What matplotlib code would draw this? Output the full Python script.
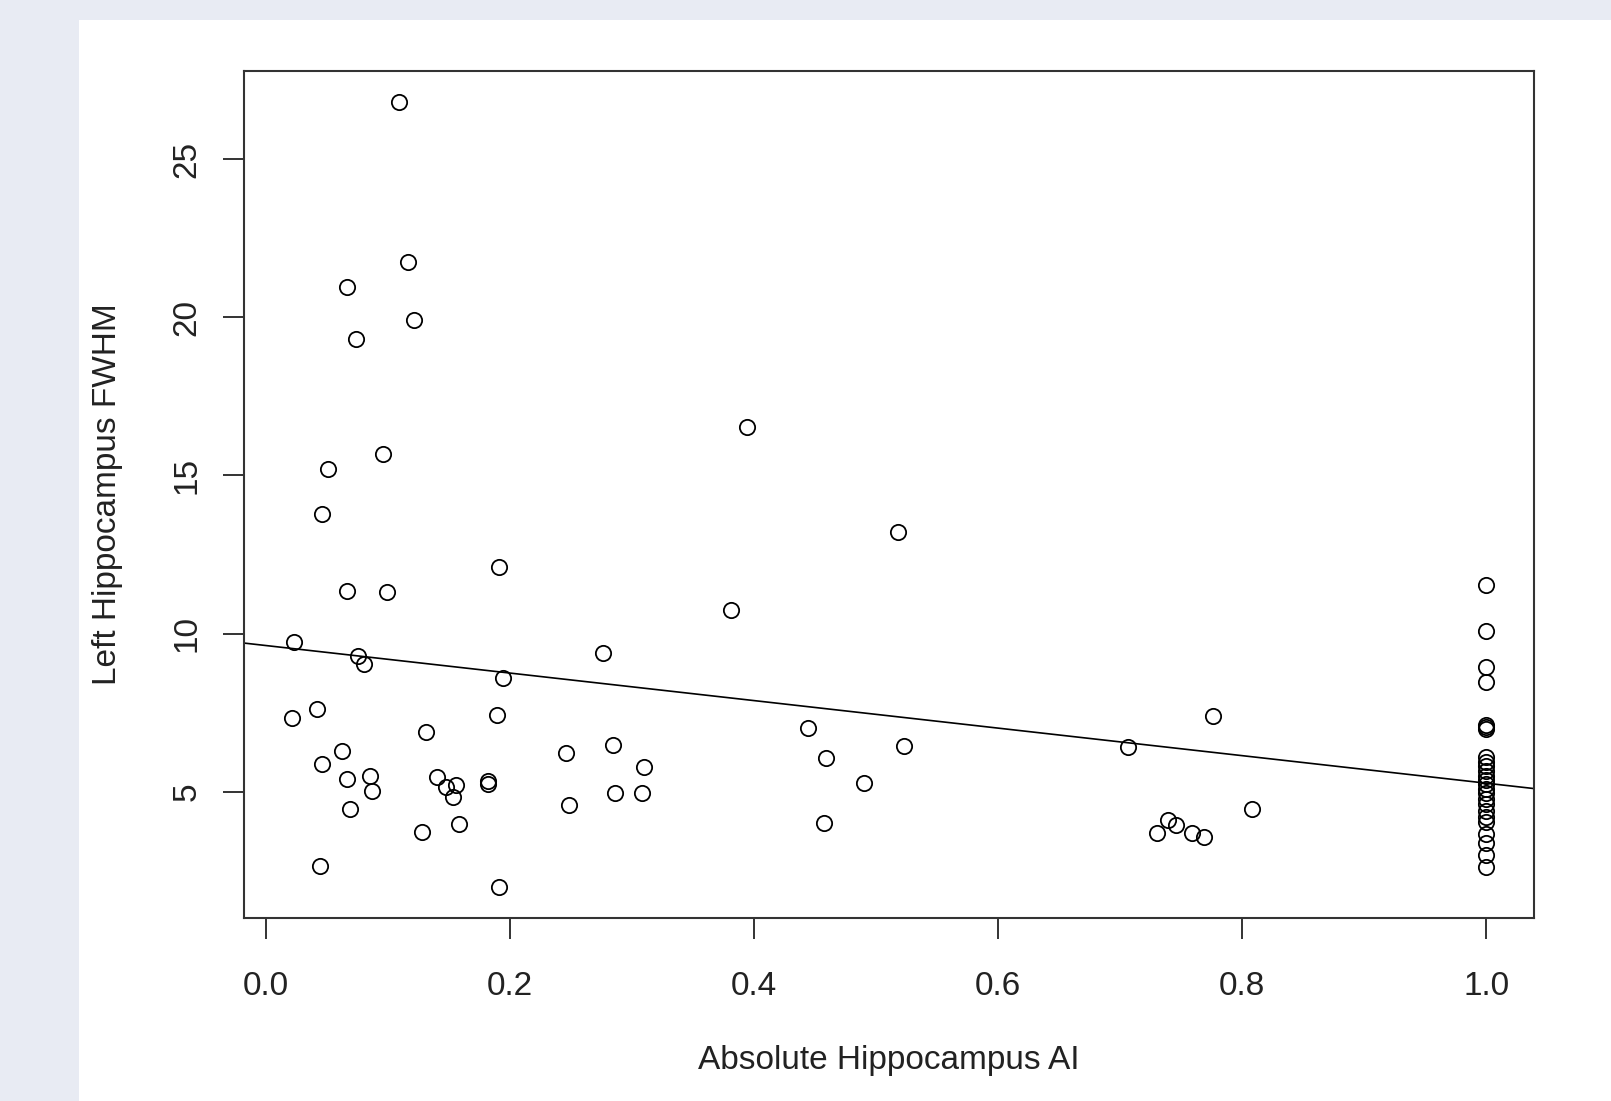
#%% Imports
import matplotlib
matplotlib.use("Agg")
import matplotlib.pyplot as plt
from matplotlib.patches import Rectangle
import numpy as np

plt.rcParams['font.family'] = ['Liberation Sans', 'DejaVu Sans']

#%% Data (absolute AI vs left FWHM)
ai = [0.109, 0.116, 0.066, 0.121, 0.074, 0.096, 0.051, 0.046, 0.066, 0.099,
      0.191, 0.023, 0.075, 0.080, 0.194, 0.021, 0.042, 0.189, 0.131, 0.062,
      0.046, 0.066, 0.085, 0.087, 0.069, 0.044, 0.140, 0.147, 0.156, 0.153,
      0.182, 0.182, 0.128, 0.158, 0.191, 0.246, 0.248, 0.276, 0.284, 0.286,
      0.310, 0.308, 0.381, 0.394, 0.444, 0.459, 0.457, 0.490, 0.518, 0.523,
      0.706, 0.776, 0.808, 0.730, 0.739, 0.746, 0.759, 0.769]
fwhm = [26.79, 21.75, 20.94, 19.90, 19.32, 15.68, 15.19, 13.77, 11.33, 11.30,
        12.11, 9.72, 9.30, 9.05, 8.61, 7.34, 7.63, 7.44, 6.88, 6.28,
        5.89, 5.40, 5.50, 5.02, 4.45, 2.65, 5.45, 5.14, 5.22, 4.83,
        5.35, 5.24, 3.74, 3.97, 2.00, 6.21, 4.57, 9.40, 6.47, 4.95,
        5.77, 4.95, 10.75, 16.53, 7.01, 6.08, 4.02, 5.28, 13.20, 6.44,
        6.40, 7.40, 4.45, 3.69, 4.11, 3.96, 3.68, 3.56]

# subjects with AI = 1 (fully lateralised)
fwhm_ai1 = [11.55, 10.08, 8.95, 8.47, 7.10, 7.03, 6.98, 6.10, 5.95, 5.80,
            5.65, 5.50, 5.38, 5.25, 5.10, 4.95, 4.78, 4.60, 4.40, 4.20,
            4.05, 3.65, 3.38, 3.00, 2.62]

# lm fit (abline)
fit_intercept = 9.62
fit_slope = -4.35

x = np.array(ai + [1.0] * len(fwhm_ai1))
y = np.array(fwhm + fwhm_ai1)

xticks = [0.0, 0.2, 0.4, 0.6, 0.8, 1.0]
yticks = [5, 10, 15, 20, 25]

#%% Figure
fig = plt.figure(figsize=(16.11, 11.01), dpi=100)
fig.patch.set_facecolor('#e8ebf3')
# white page behind the plot
fig.add_artist(Rectangle((79 / 1611, 0), 1 - 79 / 1611, 1 - 20 / 1101,
                         transform=fig.transFigure, facecolor='white',
                         edgecolor='none', zorder=-10))

ax = fig.add_axes([244 / 1611, 1 - 918 / 1101, (1534 - 244) / 1611, (918 - 71) / 1101])
ax.set_facecolor('white')

ax.plot(x, y, linestyle='none', marker='o', markersize=11, markerfacecolor='none',
        markeredgecolor='black', markeredgewidth=1.3)
ax.axline((0, fit_intercept), slope=fit_slope, color='black', linewidth=1.2)

# R style axis ranges (data range + 4%)
xr = x.max() - x.min()
yr = y.max() - y.min()
ax.set_xlim(x.min() - 0.04 * xr, x.max() + 0.04 * xr)
ax.set_ylim(y.min() - 0.04 * yr, y.max() + 0.04 * yr)

ax.set_xticks(xticks)
ax.set_xticklabels([f"{t:.1f}" for t in xticks])
ax.set_yticks(yticks)
ax.set_yticklabels([str(t) for t in yticks], rotation=90, va='center')

for s in ax.spines.values():
    s.set_linewidth(1.5)
    s.set_color('#333333')
ax.tick_params(direction='out', length=15, width=1.4, color='#333333',
               labelsize=24, labelcolor='#222222')
ax.tick_params(axis='x', pad=23)
ax.tick_params(axis='y', pad=15)

ax.set_xlabel('Absolute Hippocampus AI', fontsize=24, color='#222222')
ax.set_ylabel('Left Hippocampus FWHM', fontsize=24, color='#222222')
ax.xaxis.set_label_coords(0.5, -0.150)
ax.yaxis.set_label_coords(-0.094, 0.5)

fig.savefig('out.png', dpi=100, facecolor=fig.get_facecolor())
